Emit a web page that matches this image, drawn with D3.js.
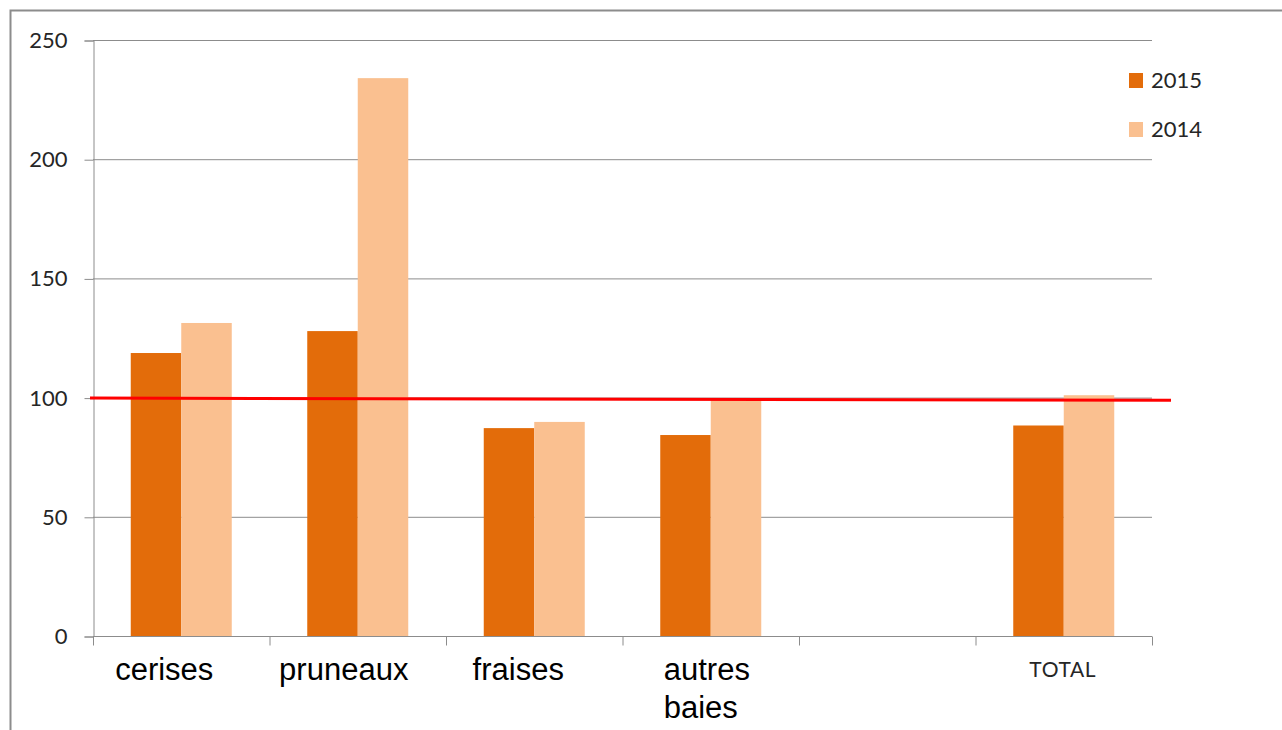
<!DOCTYPE html>
<html><head><meta charset="utf-8">
<script src="https://cdn.jsdelivr.net/npm/d3@7"></script>
<style>html,body{margin:0;padding:0;background:#fff;}svg{display:block;}</style>
</head><body>
<svg id="c" width="1282" height="730"></svg>
<script>
const categories = ["cerises", "pruneaux", "fraises", "autres baies", "", "TOTAL"];
const series = ["2015", "2014"];
const values2015 = [118.7, 127.9, 87.2, 84.3, null, 88.3];
const values2014 = [131.3, 234.0, 89.8, 99.6, null, 101.0];
const yTicks = [0, 50, 100, 150, 200, 250];
const refLine = [99.8, 98.9]; // red reference line (start, end)

(function(){
const colors = {"2015": "#E36C0A", "2014": "#FAC090"};
const svg = d3.select("#c");
const mL = 93, mR = 1152, mT = 40, mB = 636;

// frame: top and left edges only
svg.append("path").attr("d", "M10.5,740 L10.5,10.5 L1282,10.5")
  .attr("fill", "none").attr("stroke", "#8c8c8c").attr("stroke-width", 2);

const x = d3.scaleBand().domain(categories.map((d,i)=>i)).range([mL, mR]).padding(0);
const y = d3.scaleLinear().domain([0, 250]).range([mB, mT]);
const groupW = 101;
const xs = d3.scaleBand().domain(series).range([0, groupW]).padding(0);

svg.append("g").selectAll("line").data(yTicks.filter(d=>d>0)).join("line")
  .attr("x1", mL).attr("x2", mR).attr("y1", d=>y(d)+0.5).attr("y2", d=>y(d)+0.5)
  .attr("stroke", "#8c8c8c").attr("stroke-width", 1);

const ya = svg.append("g").attr("transform", `translate(${mL+0.5},0.5)`)
  .call(d3.axisLeft(y).tickValues(yTicks).tickSize(9).tickPadding(17));
ya.select(".domain").attr("stroke", "#8c8c8c");
ya.selectAll(".tick line").attr("stroke", "#8c8c8c");
ya.selectAll(".tick text").attr("font-family", "Lato, sans-serif").attr("font-size", 22).attr("fill", "#262626");

const data = [];
categories.forEach((c,i)=>{
  series.forEach((s)=>{
    const v = s==="2015" ? values2015[i] : values2014[i];
    if (v!=null) data.push({i, s, v});
  });
});
svg.append("g").selectAll("rect").data(data).join("rect")
  .attr("x", d=>x(d.i) + (x.bandwidth()-groupW)/2 + xs(d.s))
  .attr("width", xs.bandwidth())
  .attr("y", d=>y(d.v)).attr("height", d=>y(0)-y(d.v))
  .attr("fill", d=>colors[d.s]);

const xa = svg.append("g").attr("transform", `translate(0,${mB+0.5})`);
xa.append("line").attr("x1", mL).attr("x2", mR).attr("stroke", "#8c8c8c");
const tickXs = d3.range(categories.length+1).map(k=> mL + k*x.step());
xa.selectAll("line.t").data(tickXs).join("line").attr("class","t")
  .attr("x1", d=>d+0.5).attr("x2", d=>d+0.5).attr("y1", 0).attr("y2", 9).attr("stroke", "#8c8c8c");

const labelShift = [-17, -14, -16, -47, 0, -1];
categories.forEach((c,i)=>{
  if (!c) return;
  const cx = x(i) + x.bandwidth()/2 + labelShift[i];
  if (c === "TOTAL") {
    svg.append("text").attr("x", cx).attr("y", 677).attr("text-anchor", "middle")
      .attr("font-family", "Lato, sans-serif").attr("font-size", 21).attr("letter-spacing", 0.6)
      .attr("fill", "#262626").text(c);
  } else {
    const words = c.split(" ");
    const t = svg.append("text")
      .attr("font-family", "'Liberation Sans', Arial, sans-serif").attr("font-size", 31).attr("fill", "#000");
    if (words.length > 1) {
      t.attr("text-anchor", "start");
      t.append("tspan").attr("x", cx).attr("y", 680).text(words[0]);
      t.append("tspan").attr("x", cx).attr("y", 718).text(words[1]);
    } else {
      t.attr("text-anchor", "middle").attr("x", cx).attr("y", 680).text(c);
    }
  }
});

const xl = d3.scaleLinear().domain([0,1]).range([90, 1171]);
svg.append("line").attr("x1", xl(0)).attr("x2", xl(1)).attr("y1", y(refLine[0])).attr("y2", y(refLine[1]))
  .attr("stroke", "#FF0000").attr("stroke-width", 3);

series.forEach((s,k)=>{
  svg.append("rect").attr("x", 1129).attr("y", 73 + k*49).attr("width", 14).attr("height", 15).attr("fill", colors[s]);
  svg.append("text").attr("x", 1151).attr("y", 88 + k*49).attr("font-family", "Lato, sans-serif")
    .attr("font-size", 22).attr("fill", "#262626").text(s);
});
})();
</script>
</body></html>
